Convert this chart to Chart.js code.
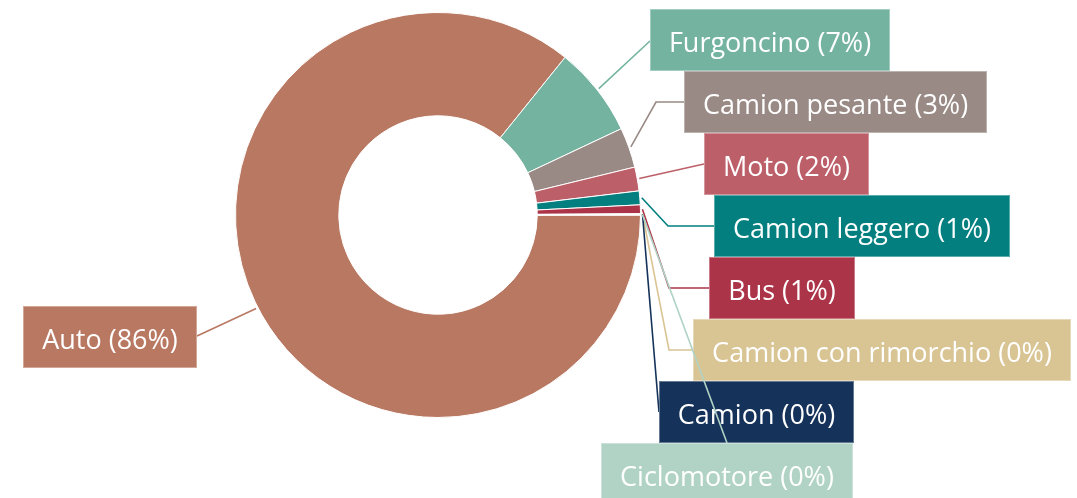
<!DOCTYPE html>
<html>
<head>
<meta charset="utf-8">
<script src="https://cdn.jsdelivr.net/npm/chart.js@4/dist/chart.umd.min.js"></script>
<style>
  html, body { margin: 0; padding: 0; background: #fff; }
  #wrap { width: 1077px; height: 498px; position: relative; }
</style>
</head>
<body>
<div id="wrap"><canvas id="vehicleChart" width="1077" height="498"></canvas></div>
<script>
var categories = ['Auto', 'Furgoncino', 'Camion pesante', 'Moto', 'Camion leggero', 'Bus',
    'Camion con rimorchio', 'Camion', 'Ciclomotore'];
var shares = [85.8, 7.2, 3.2, 1.9, 1.1, 0.7, 0.05, 0.03, 0.02];
var colors = ['#B97862', '#74B3A0', '#998A85', '#BC5F68', '#037F80', '#AC3448',
    '#D9C493', '#15325A', '#B0D3C6'];

// label box placement (left, top) and leader line points after the slice anchor
var boxLeft = [23, 650, 684, 704, 714, 709, 693, 659, 601];
var boxTop = [306, 9, 71, 133, 195, 257, 319, 381, 443];
var leaderPoints = [
    [[197, 336]],
    [[650, 41]],
    [[656, 102], [684, 102]],
    [[704, 164]],
    [[668, 226], [714, 226]],
    [[669, 288], [709, 288]],
    [[669, 350], [693, 350]],
    [[659, 412]],
    [[727, 443]]
];
// Auto's leader leaves the ring on the lower left instead of at its mid angle
var anchorAngle = [152.8, null, null, null, null, null, null, null, null];

var boxHeight = 62;
var boxPad = 19;
var labelFont = '27px "Open Sans", "Noto Sans", sans-serif';

var calloutLabels = {
    id: 'calloutLabels',
    afterDatasetsDraw: function (chart) {
        var ctx = chart.ctx;
        var meta = chart.getDatasetMeta(0);
        var total = shares.reduce(function (a, b) { return a + b; }, 0);
        ctx.save();
        ctx.font = labelFont;
        ctx.textBaseline = 'alphabetic';
        ctx.textAlign = 'center';
        meta.data.forEach(function (arc, i) {
            var p = arc.getProps(['x', 'y', 'startAngle', 'endAngle', 'outerRadius'], true);
            var a = anchorAngle[i] !== null ? anchorAngle[i] * Math.PI / 180 : (p.startAngle + p.endAngle) / 2;
            var r = p.outerRadius + 2;
            var ax = p.x + Math.cos(a) * r;
            var ay = p.y + Math.sin(a) * r;

            ctx.strokeStyle = colors[i];
            ctx.lineWidth = 1.6;
            ctx.beginPath();
            ctx.moveTo(ax, ay);
            leaderPoints[i].forEach(function (pt) { ctx.lineTo(pt[0], pt[1]); });
            ctx.stroke();

            var pct = Math.round(shares[i] / total * 100);
            var text = categories[i] + ' (' + pct + '%)';
            var w = Math.round(ctx.measureText(text).width + boxPad * 2);
            var x = boxLeft[i];
            var y = boxTop[i];
            ctx.fillStyle = colors[i];
            ctx.fillRect(x, y, w, boxHeight);
            ctx.strokeStyle = 'rgba(255,255,255,0.35)';
            ctx.lineWidth = 1;
            ctx.strokeRect(x + 0.5, y + 0.5, w - 1, boxHeight - 1);
            ctx.fillStyle = '#ffffff';
            ctx.fillText(text, x + w / 2, y + 43);
        });
        ctx.restore();
    }
};

new Chart(document.getElementById('vehicleChart'), {
    type: 'doughnut',
    data: {
        labels: categories,
        datasets: [{
            data: shares,
            backgroundColor: colors,
            borderColor: '#ffffff',
            borderWidth: 1
        }]
    },
    options: {
        responsive: false,
        animation: false,
        rotation: 90,
        cutout: '49%',
        layout: {
            padding: { left: 235, right: 436, top: 12, bottom: 80 }
        },
        plugins: {
            legend: { display: false },
            tooltip: { enabled: false }
        }
    },
    plugins: [calloutLabels]
});
</script>
</body>
</html>
